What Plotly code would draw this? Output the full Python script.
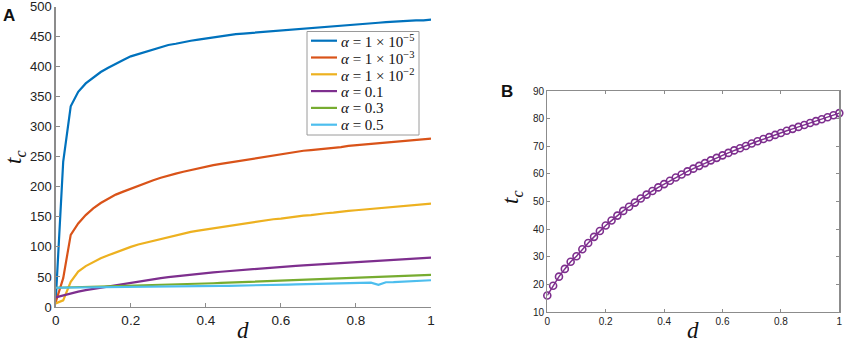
import plotly.graph_objects as go

# ---------------- data ----------------
d = [round(i * 0.02, 2) for i in range(51)]

tc_a1e5 = [10, 242, 334, 358, 372, 382, 391, 398, 405, 411, 417, 421, 425, 429, 433, 436,
           438, 441, 443, 445, 447, 449, 451, 452, 454, 455, 456, 458, 459, 460, 461, 462,
           463, 464, 465, 466, 467, 468, 469, 470, 471, 472, 473, 473, 474, 475, 476, 476,
           477, 477, 478]
tc_a1e3 = [8, 48, 120, 139, 153, 164, 173, 180, 187, 192, 197, 202, 206, 211, 215, 219,
           222, 225, 228, 231, 233, 236, 238, 240, 242, 244, 246, 248, 250, 253, 255, 257,
           258, 260, 261, 262, 264, 265, 266, 268, 269, 270, 271, 272, 274, 275, 276, 277,
           278, 279, 280]
tc_a1e2 = [6, 11, 42, 59, 68, 75, 81, 86, 91, 95, 100, 104, 107, 111, 114, 117,
           120, 122, 125, 127, 129, 131, 133, 135, 137, 139, 141, 143, 144, 146, 147, 149,
           150, 152, 153, 155, 156, 157, 159, 160, 161, 162, 163, 164, 166, 167, 168, 169,
           170, 171, 172]
tc_a01 = [16, 19.5, 22.8, 25.6, 28.2, 30.2, 32.7, 35.0, 37.2, 39.3, 41.3, 43.1, 44.9, 46.6,
          48.1, 49.6, 51.1, 52.5, 53.8, 55.1, 56.3, 57.5, 58.7, 59.8, 60.9, 61.9, 62.9, 63.9,
          64.9, 65.8, 66.7, 67.6, 68.5, 69.3, 70.1, 71.0, 71.8, 72.6, 73.3, 74.1, 74.8, 75.6,
          76.3, 77.0, 77.7, 78.4, 79.1, 79.8, 80.5, 81.2, 82.0]
tc_a03 = [32, 32.3, 32.6, 32.9, 33.2, 33.5, 33.8, 34.1, 34.4, 34.7, 35.0, 35.4, 35.8, 36.2,
          36.6, 37.0, 37.4, 37.8, 38.2, 38.6, 39.0, 39.5, 40.0, 40.5, 41.0, 41.5, 42.0, 42.5,
          43.0, 43.5, 44.0, 44.5, 45.0, 45.5, 46.0, 46.5, 47.0, 47.5, 48.0, 48.5, 49.0, 49.4,
          49.8, 50.2, 50.6, 51.0, 51.5, 52.0, 52.5, 53.0, 53.5]
tc_a05 = [32, 32.2, 32.4, 32.6, 32.8, 33.0, 33.2, 33.4, 33.6, 33.8, 34.0, 34.1, 34.2, 34.3,
          34.4, 34.5, 34.6, 34.7, 34.8, 34.9, 35.0, 35.1, 35.2, 35.3, 35.4, 35.5, 35.6, 35.7,
          35.8, 36.6, 37.0, 37.3, 37.6, 37.9, 38.2, 38.5, 38.8, 39.1, 39.4, 39.7, 40.0, 40.3,
          40.6, 37.0, 41.2, 41.5, 42.0, 42.6, 43.2, 43.8, 44.5]

legend_labels = [
    "<i>α</i> = 1 × 10<sup>−5</sup>",
    "<i>α</i> = 1 × 10<sup>−3</sup>",
    "<i>α</i> = 1 × 10<sup>−2</sup>",
    "<i>α</i> = 0.1",
    "<i>α</i> = 0.3",
    "<i>α</i> = 0.5",
]
series_values = [tc_a1e5, tc_a1e3, tc_a1e2, tc_a01, tc_a03, tc_a05]
colors = ["#0072BD", "#D95319", "#EDB120", "#7E2F8E", "#77AC30", "#4DBEEE"]

xticks = [0, 0.2, 0.4, 0.6, 0.8, 1]
xticklabels = ["0", "0.2", "0.4", "0.6", "0.8", "1"]

W, H = 846, 349
def px(x):
    return x / W
def py(y):
    return 1 - y / H

# ---------------- figure ----------------
fig = go.Figure()
for name, y, col in zip(legend_labels, series_values, colors):
    fig.add_trace(go.Scatter(x=d, y=y, mode="lines", name=name, showlegend=False,
                             line=dict(color=col, width=2.2),
                             xaxis="x", yaxis="y"))

fig.add_trace(go.Scatter(x=d, y=tc_a01, mode="lines+markers", showlegend=False,
                         line=dict(color="#7E2F8E", width=1.5),
                         marker=dict(symbol="circle-open", size=7,
                                     color="#7E2F8E", line=dict(width=1.6)),
                         xaxis="x2", yaxis="y2", cliponaxis=False))

SANS = "Liberation Sans, Arial, sans-serif"
SERIF = "Liberation Serif, Times New Roman, serif"
AX = "#8c8c8c"

common = dict(showgrid=False, zeroline=False, automargin=False,
              ticklabeloverflow="allow", tickcolor=AX, linecolor=AX, showline=True,
              ticks="inside")

fig.update_layout(
    width=W, height=H,
    margin=dict(l=0, r=0, t=0, b=0, autoexpand=False),
    paper_bgcolor="white", plot_bgcolor="white",
    font=dict(family=SANS, color="#222"),
    showlegend=False,
    xaxis=dict(domain=[px(55.7), px(431)], range=[0, 1], tickvals=xticks,
               ticktext=xticklabels, linewidth=1.3, ticklen=4,
               tickfont=dict(size=13.5, family=SANS, color="#222"), anchor="y", **common),
    yaxis=dict(domain=[py(307), py(6.5)], range=[0, 500], dtick=50,
               linewidth=1.3, ticklen=4,
               tickfont=dict(size=13, family=SANS, color="#222"), anchor="x", **common),
    xaxis2=dict(domain=[px(547.3), px(839.3)], range=[0, 1], tickvals=xticks,
                ticktext=xticklabels, mirror="ticks", linewidth=1.2, ticklen=3,
                tickfont=dict(size=10, family=SANS, color="#222"), anchor="y2", **common),
    yaxis2=dict(domain=[py(312), py(91)], range=[10, 90], dtick=10,
                mirror="ticks", linewidth=1.2, ticklen=3,
                tickfont=dict(size=10, family=SANS, color="#222"), anchor="x2", **common),
)

# ---- legend box (drawn manually to match the compact MATLAB legend) ----
shapes = [dict(type="rect", xref="paper", yref="paper",
               x0=px(307), x1=px(419), y0=py(135), y1=py(31.5),
               line=dict(color="#9a9a9a", width=1), fillcolor="white", layer="above")]
row_y = [40.7, 57.5, 74.3, 91.1, 107.9, 124.7]
ann = []
for lab, col, ry in zip(legend_labels, colors, row_y):
    shapes.append(dict(type="line", xref="paper", yref="paper",
                       x0=px(311), x1=px(337), y0=py(ry), y1=py(ry),
                       line=dict(color=col, width=2.2), layer="above"))
    ann.append(dict(text=lab, x=px(339), y=py(ry + 0.5), xanchor="left", yanchor="middle",
                    font=dict(size=15, family=SERIF, color="#111")))
fig.update_layout(shapes=shapes)

ann += [
    dict(text="<b>A</b>", x=px(9), y=py(15), xanchor="center", yanchor="middle",
         font=dict(size=17, family=SANS, color="#111")),
    dict(text="<b>B</b>", x=px(507), y=py(92), xanchor="center", yanchor="middle",
         font=dict(size=17, family=SANS, color="#111")),
    dict(text="<i>d</i>", x=px(243), y=py(330), xanchor="center", yanchor="middle",
         font=dict(size=23, family=SERIF, color="#111")),
    dict(text="<i>d</i>", x=px(693), y=py(330), xanchor="center", yanchor="middle",
         font=dict(size=23, family=SERIF, color="#111")),
    dict(text="<i>t<sub>c</sub></i>", x=px(15), y=py(157), textangle=-90,
         xanchor="center", yanchor="middle", font=dict(size=23, family=SERIF, color="#111")),
    dict(text="<i>t<sub>c</sub></i>", x=px(512), y=py(197), textangle=-90,
         xanchor="center", yanchor="middle", font=dict(size=23, family=SERIF, color="#111")),
]
for a in ann:
    a.update(xref="paper", yref="paper", showarrow=False)
    fig.add_annotation(**a)

fig.write_html("out.html", config={"displayModeBar": False, "staticPlot": True},
               post_script="document.body.style.margin='0';document.body.style.padding='0';")
